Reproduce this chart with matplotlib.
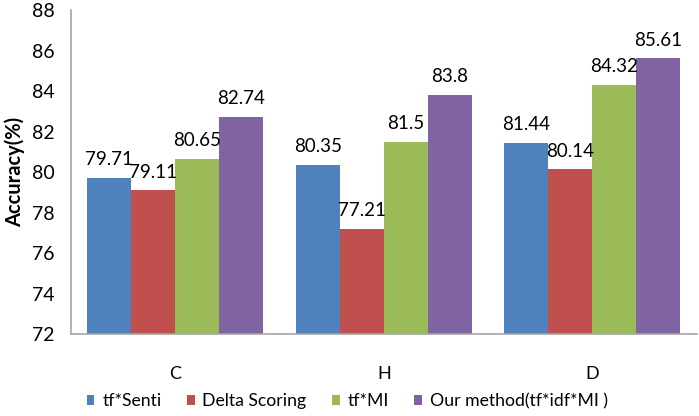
import matplotlib.pyplot as plt
import numpy as np

plt.rcParams['font.family'] = ['Lato', 'DejaVu Sans']

# data
datasets = ["C", "H", "D"]
methods = ["tf*Senti", "Delta Scoring", "tf*MI", "Our method(tf*idf*MI )"]
tf_senti = [79.71, 80.35, 81.44]
delta_scoring = [79.11, 77.21, 80.14]
tf_mi = [80.65, 81.5, 84.32]
our_method = [82.74, 83.8, 85.61]
yticks = [72, 74, 76, 78, 80, 82, 84, 86, 88]

colors = ["#4F81BD", "#C0504D", "#9BBB59", "#8064A2"]


def main():
    fig = plt.figure(figsize=(6.99, 4.16), dpi=100)
    ax = fig.add_axes([0.1016, 0.196, 0.895, 0.78])

    x = np.arange(len(datasets))
    width = 0.211
    series = [tf_senti, delta_scoring, tf_mi, our_method]
    for i, vals in enumerate(series):
        offs = (i - 1.5) * width
        bars = ax.bar(x + offs, vals, width, bottom=0, color=colors[i],
                      label=methods[i])
        for b, v in zip(bars, vals):
            ax.annotate(str(v), (b.get_x() + b.get_width() / 2, v),
                        xytext=(0, 7), textcoords="offset points",
                        ha="center", va="bottom", fontsize=13.5,
                        annotation_clip=False)

    ax.set_ylim(72, 88)
    ax.set_xlim(-0.5, 2.5)
    ax.set_yticks(yticks)
    ax.set_xticks(x)
    ax.set_xticklabels(datasets)
    ax.tick_params(axis="y", length=0, pad=12, labelsize=14)
    ax.tick_params(axis="x", length=0, pad=23, labelsize=13)
    ax.set_ylabel("Accuracy(%)", fontsize=14.5, fontweight="bold", labelpad=5)

    for s in ["top", "right"]:
        ax.spines[s].set_visible(False)
    for s in ["left", "bottom"]:
        ax.spines[s].set_color("#a6a6a6")
        ax.spines[s].set_linewidth(1.2)

    fig.legend(loc="lower center", bbox_to_anchor=(0.497, -0.022), ncol=4,
               frameon=False, fontsize=12.7, handlelength=0.42,
               handleheight=0.42, handletextpad=0.45, columnspacing=1.45)

    plt.savefig("out.png", dpi=100)


if __name__ == "__main__":
    main()
